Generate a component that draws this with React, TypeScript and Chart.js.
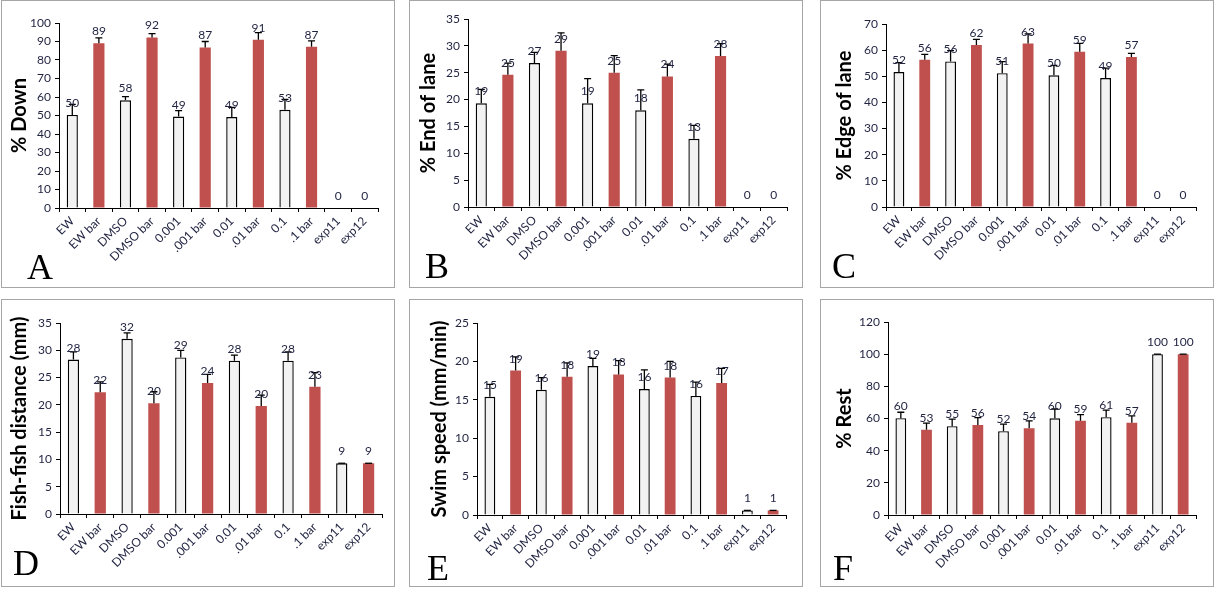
import React, { useEffect, useRef } from 'react';
import { Chart, registerables } from 'chart.js';
Chart.register(...registerables);

const categories = ['EW', 'EW bar', 'DMSO', 'DMSO bar', '0.001', '.001 bar', '0.01', '.01 bar', '0.1', '.1 bar', 'exp11', 'exp12'];

const downValues = [50.3, 89, 58.2, 92.2, 49.4, 86.8, 49.2, 91, 53.1, 87.2, 0, 0];
const downErrors = [5.7, 3, 2, 2.1, 3.2, 3.2, 5.2, 3.8, 5.6, 3.1, 0, 0];

const endValues = [19.3, 24.6, 26.8, 29.1, 19.3, 25, 18, 24.3, 12.7, 28.1, 0, 0];
const endErrors = [2.6, 2.2, 2.0, 3.3, 4.6, 3.2, 3.8, 2.3, 2.5, 2.3, 0, 0];

const edgeValues = [51.6, 56.3, 55.7, 62, 51.2, 62.5, 50.4, 59.4, 49.3, 57.4, 0, 0];
const edgeErrors = [3.6, 2.1, 4.1, 2.1, 4.4, 3.7, 3.8, 3.2, 3.8, 1.4, 0, 0];

const distValues = [28.3, 22.3, 32.1, 20.3, 28.7, 24, 28.1, 19.8, 28.1, 23.3, 9.3, 9.3];
const distErrors = [1.4, 1.9, 1.1, 2.1, 1.3, 1.6, 1.0, 2.0, 1.6, 2.6, 0, 0];

const speedValues = [15.4, 18.8, 16.3, 18.0, 19.4, 18.3, 16.4, 17.9, 15.5, 17.2, 0.6, 0.6];
const speedErrors = [1.6, 1.8, 1.6, 1.8, 1.0, 1.8, 2.5, 2.1, 1.8, 1.9, 0, 0];

const restValues = [60.2, 53, 55.2, 56, 52.1, 54, 60.1, 58.6, 60.8, 57.3, 100, 100];
const restErrors = [3.7, 4.1, 4.4, 4.5, 4.4, 4.5, 5.8, 3.8, 4.4, 4.3, 0, 0];

const WHITE = '#f2f2f2';
const RED = '#c0504d';
const TEXT = '#1f2340';
const FONT = 'Lato, "Open Sans", sans-serif';
const TITLE_SIZE = 20;

type PanelProps = {
  left: number; top: number; letter: string; letterX: number; letterBase: number;
  title: string; values: number[]; errors: number[]; max: number; step: number;
  cl: number; cr: number; ct: number; cb: number; titleX: number;
};

const BOX_W = 394;
const BOX_H = 288;
const CW = BOX_W - 2;
const CH = BOX_H - 2;

function Panel(p: PanelProps) {
  const ref = useRef<HTMLCanvasElement>(null);
  useEffect(() => {
    if (!ref.current) return;
    const errors = p.errors;
    const plugin = {
      id: 'errLabels',
      afterDatasetsDraw(chart: any) {
        const ctx = chart.ctx;
        const meta = chart.getDatasetMeta(0);
        const ys = chart.scales.y;
        const data = chart.data.datasets[0].data as number[];
        ctx.save();
        ctx.strokeStyle = '#000';
        ctx.lineWidth = 1.3;
        meta.data.forEach((bar: any, i: number) => {
          const v = data[i];
          if (v <= 0) return;
          const yt = ys.getPixelForValue(v + errors[i]);
          ctx.beginPath();
          ctx.moveTo(bar.x, bar.y);
          ctx.lineTo(bar.x, yt);
          ctx.moveTo(bar.x - 3.5, yt);
          ctx.lineTo(bar.x + 3.5, yt);
          ctx.stroke();
        });
        ctx.font = '12px ' + FONT;
        ctx.fillStyle = TEXT;
        ctx.textAlign = 'center';
        ctx.textBaseline = 'alphabetic';
        meta.data.forEach((bar: any, i: number) => {
          ctx.fillText(String(Math.round(data[i])), bar.x, bar.y - 8);
        });
        ctx.restore();
      },
    };
    const chart = new Chart(ref.current, {
      type: 'bar',
      data: {
        labels: categories,
        datasets: [{
          data: p.values,
          backgroundColor: categories.map((_, i) => (i % 2 === 0 ? WHITE : RED)),
          borderColor: categories.map((_, i) => (i % 2 === 0 ? '#000' : RED)),
          borderWidth: categories.map((_, i) => (i % 2 === 0 ? 1.4 : 0)),
          borderSkipped: 'start',
          barPercentage: 0.42,
          categoryPercentage: 1,
        }],
      },
      options: {
        animation: false,
        responsive: false,
        maintainAspectRatio: false,
        layout: { padding: { left: 0, top: p.ct, right: CW - p.cr, bottom: 0 } },
        plugins: { legend: { display: false }, tooltip: { enabled: false } },
        scales: {
          x: {
            afterFit: (s: any) => { s.height = CH - p.cb; },
            grid: { display: true, drawOnChartArea: false, drawTicks: true, tickLength: 4, color: '#000', offset: true },
            border: { display: true, color: '#000', width: 1 },
            ticks: { autoSkip: false, maxRotation: 45, minRotation: 45, padding: 2, color: TEXT, font: { family: FONT, size: 12 } },
          },
          y: {
            min: 0, max: p.max,
            afterFit: (s: any) => { s.width = p.cl; },
            grid: { display: true, drawOnChartArea: false, drawTicks: true, tickLength: 4, color: '#000' },
            border: { display: true, color: '#000', width: 1 },
            ticks: { stepSize: p.step, padding: 4, color: TEXT, font: { family: FONT, size: 12 } },
            title: {
              display: true, text: p.title, color: '#000',
              font: { family: FONT, size: TITLE_SIZE, weight: 'bold', lineHeight: 1.2 },
              padding: { top: p.titleX - TITLE_SIZE * 0.6, bottom: 0 },
            },
          },
        },
      },
      plugins: [plugin],
    });
    return () => chart.destroy();
  }, []);
  return (
    <>
      <div style={{ position: 'absolute', left: p.left, top: p.top, width: BOX_W, height: BOX_H, boxSizing: 'border-box', border: '1px solid #a6a6a6', background: '#fff' }}>
        <canvas ref={ref} width={CW} height={CH} style={{ position: 'absolute', left: 0, top: 0 }} />
      </div>
      <div style={{ position: 'absolute', left: p.letterX, top: p.letterBase - 30, fontFamily: '"Liberation Serif", "Times New Roman", serif', fontSize: 36, lineHeight: '36px', color: '#000' }}>{p.letter}</div>
    </>
  );
}

export default function App() {
  return (
    <div style={{ position: 'absolute', left: 0, top: 0, width: 1215, height: 589, background: '#fff', overflow: 'hidden' }}>
      <Panel left={1} top={0} letter="A" letterX={27} letterBase={279} title="% Down" values={downValues} errors={downErrors} max={100} step={10} cl={57} cr={376} ct={22} cb={207} titleX={18} />
      <Panel left={409} top={0} letter="B" letterX={425} letterBase={278} title="% End of lane" values={endValues} errors={endErrors} max={35} step={5} cl={58} cr={377} ct={18} cb={206} titleX={19} />
      <Panel left={820} top={0} letter="C" letterX={832} letterBase={278} title="% Edge of lane" values={edgeValues} errors={edgeErrors} max={70} step={10} cl={65} cr={375} ct={23} cb={206} titleX={24} />
      <Panel left={1} top={299} letter="D" letterX={13} letterBase={575} title="Fish-fish distance (mm)" values={distValues} errors={distErrors} max={35} step={5} cl={58} cr={380} ct={23} cb={214} titleX={18} />
      <Panel left={409} top={299} letter="E" letterX={427} letterBase={580} title="Swim speed (mm/min)" values={speedValues} errors={speedErrors} max={25} step={5} cl={67} cr={376} ct={23} cb={215} titleX={30} />
      <Panel left={820} top={299} letter="F" letterX={833} letterBase={580} title="% Rest" values={restValues} errors={restErrors} max={120} step={20} cl={67} cr={375} ct={22} cb={215} titleX={24} />
    </div>
  );
}
